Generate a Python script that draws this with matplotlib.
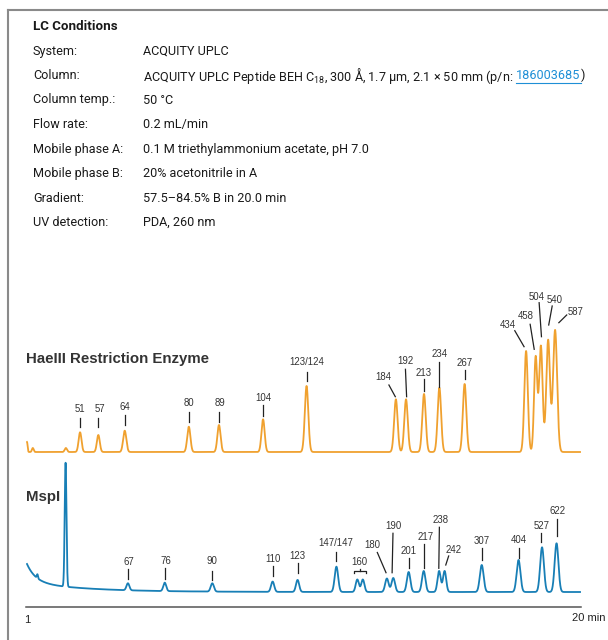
import numpy as np
import matplotlib
matplotlib.use("Agg")
import matplotlib.pyplot as plt
from matplotlib.lines import Line2D

# ---- LC conditions table ----
cond_keys = ["System:", "Column:", "Column temp.:", "Flow rate:", "Mobile phase A:",
             "Mobile phase B:", "Gradient:", "UV detection:"]
cond_vals = ["ACQUITY UPLC",
             None,  # column line is drawn in pieces (subscript + link)
             "50 °C",
             "0.2 mL/min",
             "0.1 M triethylammonium acetate, pH 7.0",
             "20% acetonitrile in A",
             "57.5–84.5% B in 20.0 min",
             "PDA, 260 nm"]
column_text = "ACQUITY UPLC Peptide BEH C$_{18}$, 300 Å, 1.7 µm, 2.1 × 50 mm (p/n:"
column_link = "186003685"

# ---- HaeIII chromatogram: peak retention (min), height, width (min) ----
hae_t = [1.00, 1.20, 2.34, 2.83, 3.46, 4.37, 6.58, 7.62, 9.14, 10.64, 13.72, 14.07,
         14.69, 15.22, 16.09, 18.21, 18.54, 18.72, 18.97, 19.21]
hae_h = [10, 4, 4, 19.7, 17, 21.3, 25.3, 27, 32.7, 66, 52.7, 52.7,
         58, 64.3, 68, 101, 95, 106, 112, 122]
hae_w = [0.02, 0.03, 0.04, 0.05, 0.05, 0.055, 0.055, 0.055, 0.055, 0.06, 0.06, 0.06,
         0.06, 0.06, 0.06, 0.06, 0.055, 0.06, 0.065, 0.07]

hae_labels = ["51", "57", "64", "80", "89", "104", "123/124", "184", "192", "213", "234",
              "267", "434", "458", "504", "540", "587"]

# ---- MspI chromatogram ----
msp_t = [1.36, 2.33, 4.48, 5.75, 7.39, 9.47, 10.33, 11.67, 12.39, 12.58, 13.41, 13.63,
         14.16, 14.68, 15.21, 15.40, 16.68, 17.95, 18.76, 19.26]
msp_h = [4, 124, 7, 8.4, 8.3, 10.3, 12, 25.3, 12.5, 12.5, 13.5, 14, 20, 21, 21, 21,
         27, 32, 44.7, 48.7]
msp_w = [0.02, 0.03, 0.05, 0.05, 0.055, 0.055, 0.055, 0.06, 0.055, 0.055, 0.06, 0.06,
         0.06, 0.06, 0.055, 0.055, 0.065, 0.065, 0.065, 0.065]
msp_drift = [(18, 0.3), (10, 2.0)]  # (amplitude, decay in min) of starting baseline

msp_labels = ["67", "76", "90", "110", "123", "147/147", "160", "180", "190", "201",
              "217", "238", "242", "307", "404", "527", "622"]

# ---- label layout (text centre, tick start -> tick end), height above baseline ----
hae_text = [(2.83, 42.7), (3.50, 42.7), (4.38, 45.3), (6.58, 48.7), (7.64, 48.7),
            (9.16, 53.7), (10.66, 89.7), (13.30, 75.3), (14.05, 91.3), (14.68, 79.3),
            (15.24, 97.7), (16.10, 89.3), (17.58, 127), (18.19, 136), (18.57, 154.7),
            (19.21, 152), (19.92, 140.3)]
hae_tick = [(2.83, 34.3, 2.83, 25.3), (3.46, 34.3, 3.46, 25.3), (4.37, 37, 4.37, 27),
            (6.58, 40.3, 6.58, 30.3), (7.62, 40.3, 7.62, 30.3), (9.14, 47, 9.14, 36),
            (10.64, 80.3, 10.64, 71.3), (13.48, 67, 13.70, 55.3), (14.05, 82.7, 14.09, 55.3),
            (14.68, 73, 14.68, 61.3), (15.22, 90.3, 15.22, 65.3), (16.09, 82, 16.09, 72.7),
            (17.82, 121.3, 18.14, 105.3), (18.35, 127.7, 18.49, 102.7),
            (18.66, 149.3, 18.74, 115.3), (19.11, 146, 18.99, 127), (19.61, 137, 19.34, 129.3)]
msp_text = [(4.51, 29.7), (5.78, 30.7), (7.39, 30.7), (9.47, 33), (10.33, 36),
            (11.63, 48.7), (12.47, 30), (12.92, 47), (13.63, 66.3), (14.16, 41),
            (14.74, 55.3), (15.25, 72), (15.71, 42), (16.68, 50.7), (17.95, 52),
            (18.74, 66.3), (19.29, 81.3)]
msp_tick = [(4.48, 22.7, 4.48, 12.7), (5.75, 23.7, 5.75, 13), (7.39, 21.3, 7.39, 12),
            (9.47, 26, 9.47, 16.3), (10.33, 28.7, 10.33, 18.7), (11.67, 40.3, 11.67, 31),
            None, (13.08, 39.5, 13.38, 19.3), (13.62, 58.7, 13.59, 19.3),
            (14.16, 33.7, 14.16, 23.7), (14.68, 48, 14.68, 23.7), (15.22, 64.7, 15.20, 23.7),
            (15.54, 36, 15.44, 27), (16.68, 43.7, 16.68, 32), (17.95, 43.7, 17.95, 33.7),
            (18.74, 58.7, 18.74, 50.3), (19.26, 72.7, 19.26, 56)]

orange = "#F0A12F"
blue = "#187FB6"
W, H = 608, 640

plt.rcParams["mathtext.fontset"] = "custom"
plt.rcParams["mathtext.rm"] = "Roboto"
plt.rcParams["mathtext.default"] = "regular"

fig = plt.figure(figsize=(W / 100, H / 100), dpi=100)


def fx(px):
    return px / W


def fy(py):
    return 1 - py / H


# frame
fig.add_artist(Line2D([fx(8), 1], [fy(10), fy(10)], color="#8a8a8a", lw=1.5))
fig.add_artist(Line2D([fx(8), fx(8)], [fy(10), 0], color="#8a8a8a", lw=1.5))

# conditions block
tfont = dict(family="Roboto", size=9.1, color="#1a1a1a", va="center")
fig.text(fx(33), fy(27), "LC Conditions", weight="bold", **dict(tfont, size=9.6))
row_y = 51
r = fig.canvas.get_renderer()
for k, v in zip(cond_keys, cond_vals):
    fig.text(fx(33), fy(row_y), k, **tfont)
    if v is not None:
        fig.text(fx(143), fy(row_y), v, **tfont)
    else:
        t1 = fig.text(fx(143), fy(row_y), column_text, **tfont)
        x1 = t1.get_window_extent(r).x1 + 3
        t2 = fig.text(x1 / W, fy(row_y), column_link, **dict(tfont, color="#1E8FD6"))
        bb = t2.get_window_extent(r)
        fig.add_artist(Line2D([bb.x0 / W, bb.x1 / W], [fy(row_y + 7)] * 2,
                              color="#1E8FD6", lw=0.8))
        fig.text(bb.x1 / W, fy(row_y), ")", **tfont)
    row_y += 24.5

# chromatogram axes: 1 y-unit = 1 px
x0px, x1px = 26, 581
ax = fig.add_axes([fx(x0px), fy(607), (x1px - x0px) / W, (607 - 290) / H])
ax.set_xlim(1 + (x0px - 27) / 29, 1 + (x1px - 27) / 29)
ax.set_ylim(0, 317)
for s in ["top", "right", "left"]:
    ax.spines[s].set_visible(False)
ax.spines["bottom"].set_color("#555555")
ax.spines["bottom"].set_linewidth(1.1)
ax.set_xticks([])
ax.set_yticks([])
ax.patch.set_alpha(0)

hae_base = 155
msp_base = 15
t = np.linspace(1.0, 20.07, 6000)


def peaks(times, heights, widths):
    y = np.zeros_like(t)
    for tr, h, w in zip(times, heights, widths):
        y += h * np.exp(-0.5 * ((t - tr) / w) ** 2)
    return y


hae_y = hae_base + peaks(hae_t, hae_h, hae_w)
msp_y = msp_base + peaks(msp_t, msp_h, msp_w)
for a, tau in msp_drift:
    msp_y += a * np.exp(-(t - 1) / tau)

ax.plot(t, hae_y, color=orange, lw=1.3, solid_joinstyle="round")
ax.plot(t, msp_y, color=blue, lw=1.3, solid_joinstyle="round")

lfont = dict(family="Liberation Sans", size=6.9, color="#333333", ha="center", va="center")
for base, labels, tpos, ticks in [(hae_base, hae_labels, hae_text, hae_tick),
                                  (msp_base, msp_labels, msp_text, msp_tick)]:
    for lab, (tx, ty), tk in zip(labels, tpos, ticks):
        ax.text(tx, base + ty, lab, **lfont)
        if tk is not None:
            ax.plot([tk[0], tk[2]], [base + tk[1], base + tk[3]], color="#222222", lw=0.9)

# bracket for the 160 doublet
bx0, bx1, bmid = 12.28, 12.69, 12.47
ax.plot([bx0, bx0, bx1, bx1], [msp_base + 19.5, msp_base + 21.5, msp_base + 21.5,
                               msp_base + 19.5], color="#222222", lw=0.9)
ax.plot([bmid, bmid], [msp_base + 21.5, msp_base + 23.5], color="#222222", lw=0.9)

# series names
sfont = dict(family="Liberation Sans", size=10.8, weight="bold", color="#333333", va="center")
fig.text(fx(26), fy(359), "HaeIII Restriction Enzyme", **sfont)
fig.text(fx(26), fy(497), "MspI", **sfont)

# axis labels
afont = dict(family="Liberation Sans", size=8, color="#222222", va="center")
fig.text(fx(27), fy(620), "1", ha="center", **afont)
fig.text(fx(572), fy(618), "20 min", ha="left", **afont)

fig.savefig("out.png", dpi=100)
